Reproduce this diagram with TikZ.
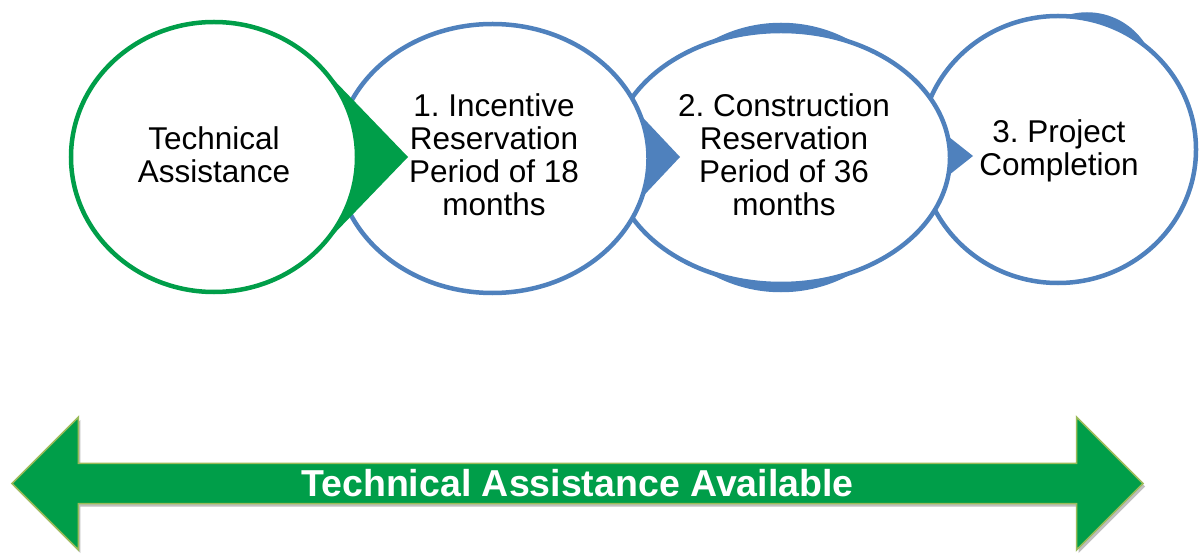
\documentclass[tikz,border=0pt]{standalone}
\usepackage{fontspec}
\setmainfont{Liberation Sans}
\usetikzlibrary{shapes.geometric,shapes.arrows,shadows,calc}
\newcommand{\LINEPT}{4.5bp}
\newcommand{\STAGEFONT}{\fontsize{31.5bp}{33bp}\selectfont}
\newcommand{\BARFONT}{\fontsize{37.5bp}{40bp}\selectfont\bfseries}
\definecolor{mygreen}{RGB}{0,158,73}
\definecolor{myblue}{RGB}{79,129,189}
\definecolor{myedge}{RGB}{155,187,89}
\frenchspacing

\begin{document}
\begin{tikzpicture}[x=1bp,y=-1bp,
		stage/.style={ellipse,fill=white,line width=\LINEPT,inner sep=0pt},
		bump/.style={ellipse,fill=myblue,draw=myblue,line width=\LINEPT,inner sep=0pt},
		stagetext/.style={font=\STAGEFONT,align=center,inner sep=0pt}]
	
	\useasboundingbox (0,0) rectangle (1201,554);
	
	%% centres of the stages and tips of the pointers
	\coordinate (cT) at (214,157);
	\coordinate (c1) at (492.5,158.5);
	\coordinate (c2) at (781,157.5);
	\coordinate (c3) at (1058,149.5);
	\coordinate (t1) at (408,157);
	\coordinate (t2) at (680,157);
	\coordinate (t3) at (973,156);
	
	%% stage 3
	\node[bump,minimum width=134bp,minimum height=134bp] (bump3) at (1087,81.5) {};
	\node[stage,draw=myblue,minimum width=276bp,minimum height=267bp] (stage3) at (c3) {};
	\fill[myblue] ($(t3)+(-53,-42)$) -- (t3) -- ($(t3)+(-53,42)$) -- cycle;
	
	%% stage 2
	\node[bump,minimum width=275bp,minimum height=265bp] (bump2) at (c2) {};
	\node[stage,draw=myblue,minimum width=338bp,minimum height=253bp] (stage2) at (c2) {};
	\fill[myblue] ($(t2)+(-80,-85)$) -- (t2) -- ($(t2)+(-80,85)$) -- cycle;
	
	%% stage 1
	\node[stage,draw=myblue,minimum width=312bp,minimum height=269bp] (stage1) at (c1) {};
	\fill[mygreen] ($(t1)+(-78,-81)$) -- (t1) -- ($(t1)+(-78,81)$) -- cycle;
	
	%% technical assistance
	\node[stage,draw=mygreen,minimum width=286bp,minimum height=270bp] (stageT) at (cT) {};
	
	%% texts
	\node[stagetext] (txtT) at (214,155) {Technical\\Assistance};
	\node[stagetext] (txt1) at (494,155) {1. Incentive\\Reservation\\Period of 18\\months};
	\node[stagetext] (txt2) at (784,155) {2. Construction\\Reservation\\Period of 36\\months};
	\node[stagetext] (txt3) at (1059,150.5) {3. Project\\Completion};
	
	%% availability bar
	\node[double arrow,fill=mygreen,draw=myedge,line width=1.5bp,
		minimum height=1131bp,minimum width=133bp,
		double arrow head extend=33.5bp,double arrow tip angle=90,
		inner sep=0pt,text=white,font=\BARFONT,
		drop shadow={shadow xshift=2bp,shadow yshift=-3bp,opacity=.25,fill=black}]
		(avail) at (577.5,483.5) {Technical Assistance Available};
	
\end{tikzpicture}
\end{document}
